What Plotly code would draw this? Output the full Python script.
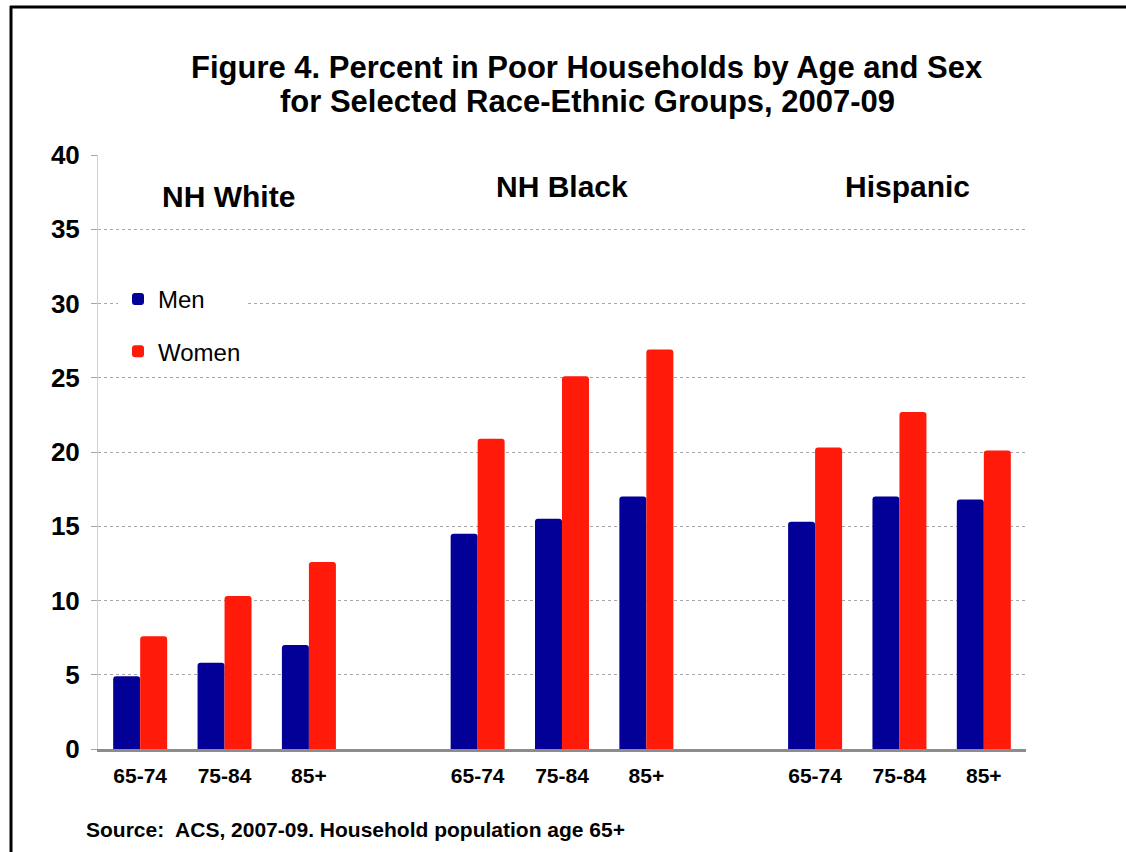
import plotly.graph_objects as go

# Percent in poor households, ACS 2007-09
groups = ["NH White", "NH Black", "Hispanic"]
ages = ["65-74", "75-84", "85+"]
men = [
    [4.9, 5.8, 7.0],     # NH White
    [14.5, 15.5, 17.0],  # NH Black
    [15.3, 17.0, 16.8],  # Hispanic
]
women = [
    [7.6, 10.3, 12.6],
    [20.9, 25.1, 26.9],
    [20.3, 22.7, 20.1],
]
y_ticks = [0, 5, 10, 15, 20, 25, 30, 35, 40]
title_lines = [
    "Figure 4. Percent in Poor Households by Age and Sex",
    "for Selected Race-Ethnic Groups, 2007-09",
]
source_note = "Source:  ACS, 2007-09. Household population age 65+"

MEN_COLOR = "#020097"
WOMEN_COLOR = "#FF1A0A"
FONT = "Arial, Liberation Sans, sans-serif"

# one slot per age band, with an empty slot between race-ethnic groups
slot = [g * (len(ages) + 1) + a for g in range(len(groups)) for a in range(len(ages))]
tick_text = [ages[a] for g in range(len(groups)) for a in range(len(ages))]
men_vals = [v for row in men for v in row]
women_vals = [v for row in women for v in row]

fig = go.Figure()
fig.add_trace(go.Bar(
    x=slot, y=men_vals, name="Men", legendgroup="m",
    marker=dict(color=MEN_COLOR, cornerradius=3, line=dict(width=0)),
    hoverinfo="skip",
))
fig.add_trace(go.Bar(
    x=slot, y=women_vals, name="Women", legendgroup="w",
    marker=dict(color=WOMEN_COLOR, cornerradius=3, line=dict(width=0)),
    hoverinfo="skip",
))

L, R, T, B = 98, 100, 155, 103
W, H = 1126, 852
pw, ph = W - L - R, H - T - B

def px_x(px):
    return (px - L) / pw

def px_y(py):
    return (H - B - py) / ph

# two-line heading
for line, py in zip(title_lines, [67, 101]):
    fig.add_annotation(
        xref="paper", yref="paper", x=px_x(587), y=px_y(py),
        text=f"<b>{line}</b>", showarrow=False,
        xanchor="center", yanchor="middle",
        font=dict(family=FONT, size=31, color="#000000"),
    )

# group headings inside the plot
heading_y = [37.2, 37.9, 37.9]
heading_dx = [0.05, 0.0, 0.1]
for g, name in enumerate(groups):
    fig.add_annotation(
        x=g * (len(ages) + 1) + 1 + heading_dx[g], y=heading_y[g],
        text=f"<b>{name}</b>", showarrow=False,
        font=dict(family=FONT, size=30, color="#000000"),
        xanchor="center", yanchor="middle",
    )

# source note
fig.add_annotation(
    xref="paper", yref="paper", x=px_x(84), y=px_y(829),
    text=f"<b>{source_note}</b>",
    showarrow=False, xanchor="left", yanchor="middle",
    font=dict(family=FONT, size=21, color="#000000"),
)

# page frame (left and top edges)
fig.add_shape(type="line", xref="paper", yref="paper",
              x0=px_x(11), x1=px_x(11), y0=px_y(6), y1=px_y(860),
              line=dict(color="#000000", width=3), layer="above")
fig.add_shape(type="line", xref="paper", yref="paper",
              x0=px_x(10), x1=px_x(1135), y0=px_y(7), y1=px_y(7),
              line=dict(color="#000000", width=3), layer="above")

fig.update_layout(
    width=W, height=H,
    margin=dict(l=L, r=R, t=T, b=B, pad=0),
    paper_bgcolor="#FFFFFF", plot_bgcolor="#FFFFFF",
    barmode="group", bargap=0.36, bargroupgap=0,
    font=dict(family=FONT, color="#000000"),
    legend=dict(
        x=px_x(118), y=px_y(277), xanchor="left", yanchor="top",
        bgcolor="#FFFFFF", borderwidth=0,
        font=dict(family=FONT, size=24, color="#000000"),
        tracegroupgap=18, itemwidth=30,
        traceorder="grouped",
    ),
    showlegend=True,
    xaxis=dict(
        range=[-0.5, 10.5],
        tickmode="array", tickvals=slot, ticktext=[f"<b>{t}</b>" for t in tick_text],
        tickfont=dict(family=FONT, size=21, color="#000000"),
        showgrid=False, zeroline=False,
        showline=True, linecolor="#8C8C8C", linewidth=3,
        ticks="", ticklabelstandoff=6,
        fixedrange=True,
    ),
    yaxis=dict(
        range=[0, 40],
        tickmode="array", tickvals=y_ticks, ticktext=[f"<b>{v}</b>" for v in y_ticks],
        tickfont=dict(family=FONT, size=26, color="#000000"),
        showgrid=True, gridcolor="#A6A6A6", gridwidth=1, griddash="dot",
        zeroline=False,
        showline=True, linecolor="#D0D0D0", linewidth=1,
        ticks="outside", ticklen=6, tickcolor="#A6A6A6",
        ticklabelstandoff=6,
        fixedrange=True,
    ),
)

fig.write_html("out.html")
